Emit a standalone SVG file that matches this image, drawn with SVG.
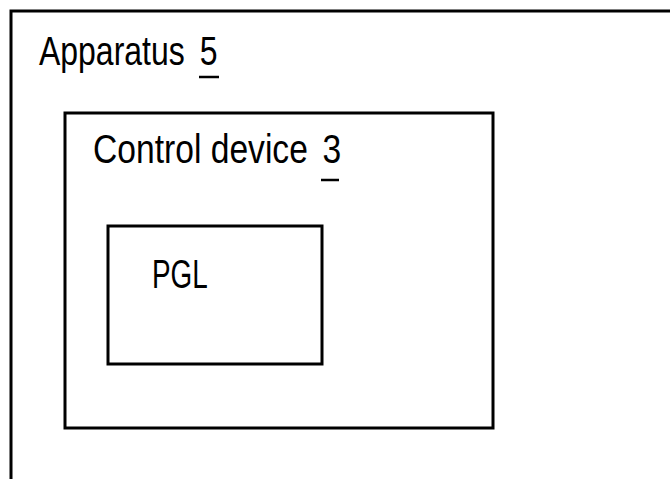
<svg xmlns="http://www.w3.org/2000/svg" width="670" height="479" viewBox="0 0 670 479">
<style>
.box{fill:none;stroke:#000;stroke-width:3}
.t{font-family:"Liberation Sans",Arial,sans-serif;font-size:41px;fill:#000}
.u{stroke:#000;stroke-width:2.5}
</style>
<rect width="670" height="479" fill="#fff"/>
<g id="apparatus">
<path class="box" d="M11,490 V11 H680"/>
<text class="t" transform="translate(39,65) scale(0.78,1)">Apparatus<tspan x="206">5</tspan></text>
<line class="u" x1="199" y1="77" x2="219" y2="77"/>
</g>
<g id="control-device">
<rect class="box" x="65" y="113" width="428" height="315"/>
<text class="t" transform="translate(93,163) scale(0.82,1)">Control device<tspan x="280">3</tspan></text>
<line class="u" x1="321" y1="180" x2="339" y2="180"/>
</g>
<g id="pgl">
<rect class="box" x="108" y="226" width="214" height="138"/>
<text class="t" transform="translate(152,288) scale(0.68,1)">PGL</text>
</g>
<g id="connectors"/>
</svg>
